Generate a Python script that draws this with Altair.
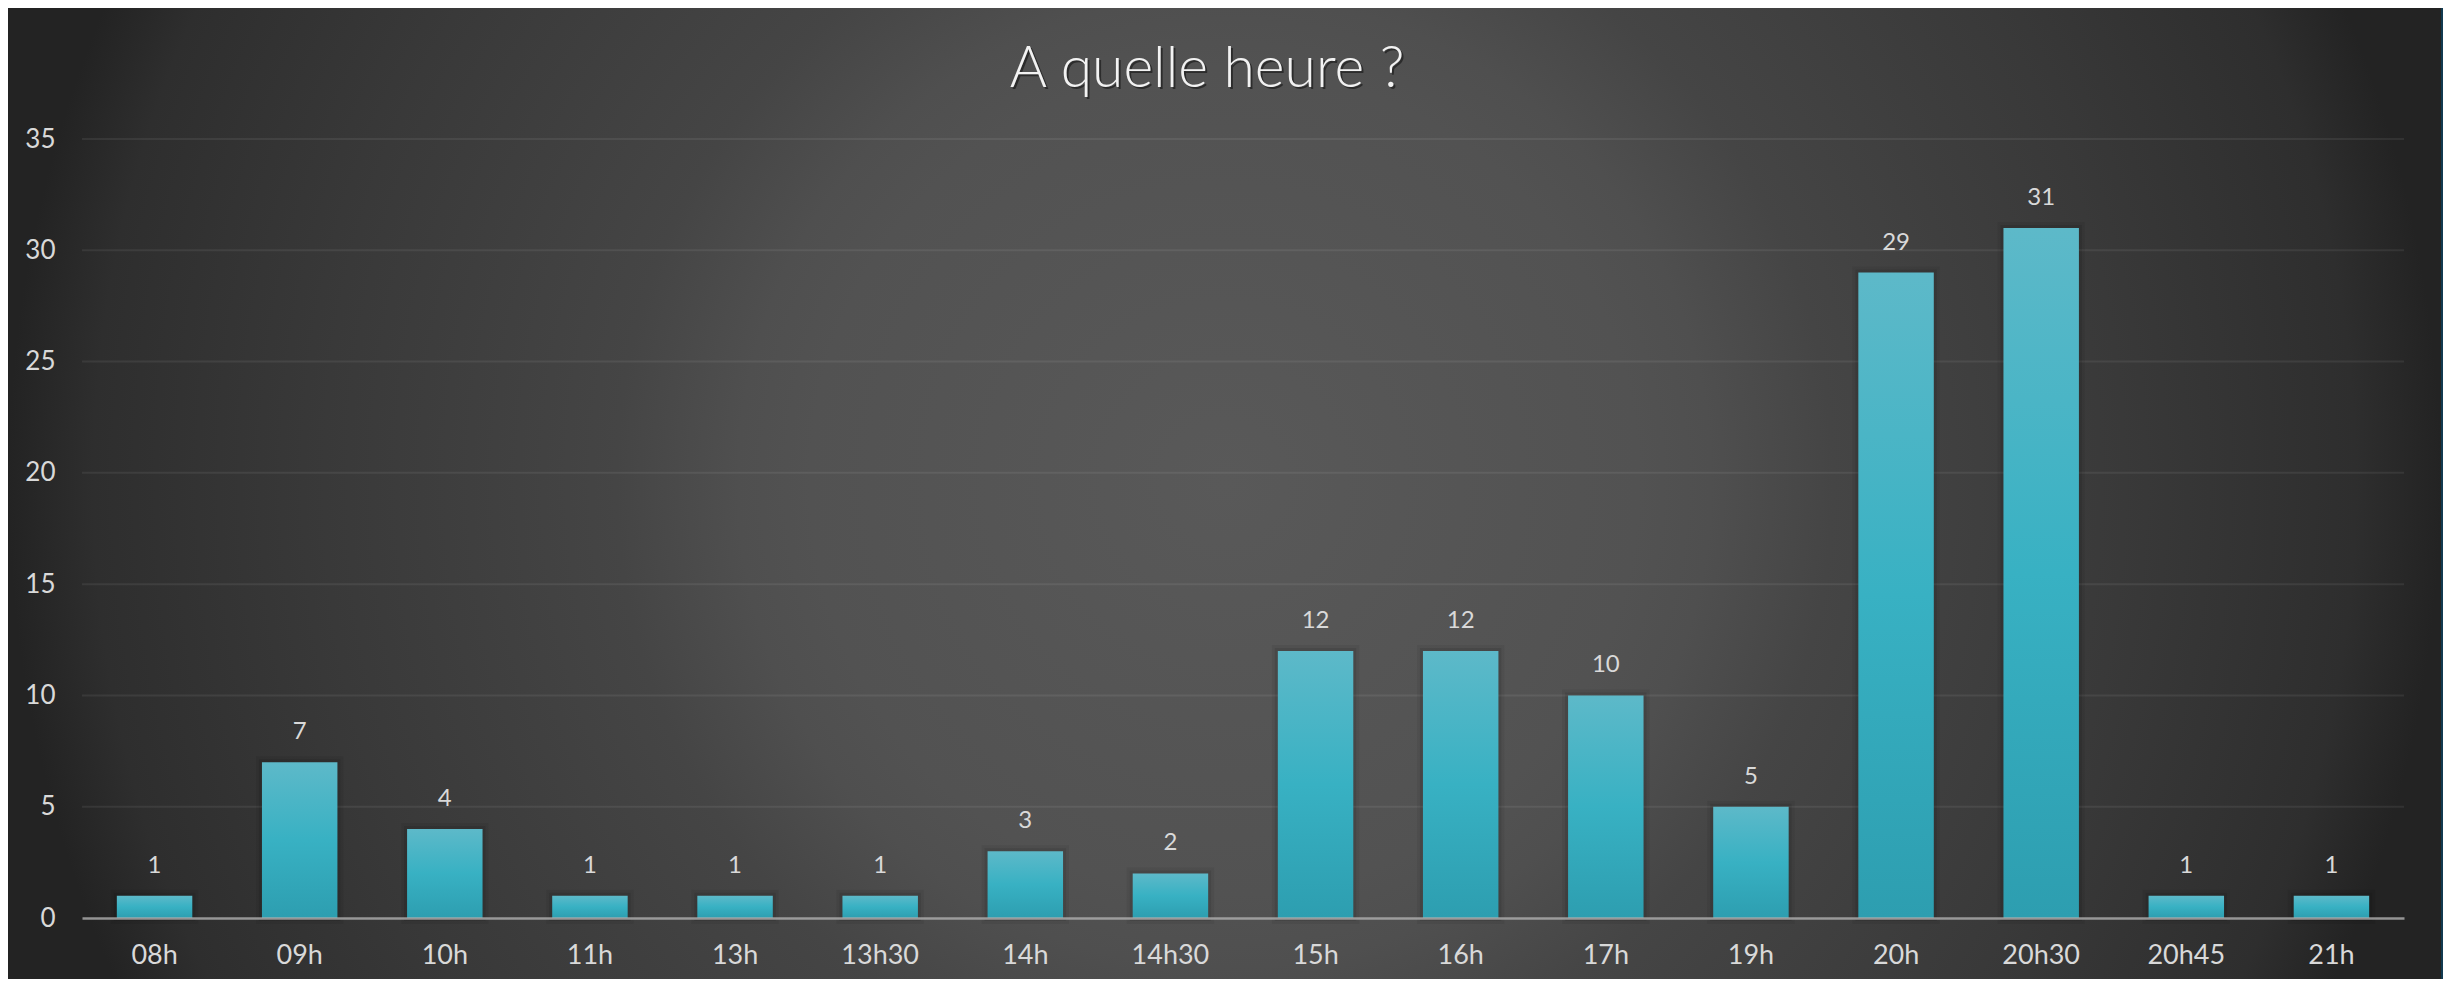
import altair as alt
import pandas as pd

# ---- data ----
categories = ["08h", "09h", "10h", "11h", "13h", "13h30", "14h", "14h30",
              "15h", "16h", "17h", "19h", "20h", "20h30", "20h45", "21h"]
counts = [1, 7, 4, 1, 1, 1, 3, 2, 12, 12, 10, 5, 29, 31, 1, 1]
y_ticks = [0, 5, 10, 15, 20, 25, 30, 35]
title_text = "A quelle heure ?"

FONT = "Lato"
W, H = 2322, 779

df = pd.DataFrame({"cat": categories, "val": counts})
grid_df = pd.DataFrame({"val": y_ticks[1:]})
one = pd.DataFrame({"t": [title_text]})

yscale = alt.Scale(domain=[0, 35], nice=False, zero=True)
xscale = alt.Scale(paddingInner=0.48, paddingOuter=0.24)

X = alt.X("cat:N", sort=categories, scale=xscale, title=None,
          axis=alt.Axis(labelAngle=0, labelFontSize=27, labelColor="#d9d9d9",
                        labelFont=FONT, labelPadding=24, ticks=False, tickSize=0,
                        domainColor="#b0b0b0", domainWidth=2.5, domainOpacity=0.8,
                        grid=False, zindex=1))
y_axis = alt.Axis(values=y_ticks, labelFontSize=26, labelColor="#d9d9d9",
                  labelFont=FONT, labelPadding=27, ticks=False, tickSize=0,
                  domain=False, grid=False, zindex=1)
Y = alt.Y("val:Q", scale=yscale, title=None, axis=y_axis)

radial = {
    "gradient": "radial",
    "x1": 0.5, "y1": 0.495, "r1": 0,
    "x2": 0.5, "y2": 0.495, "r2": 0.5,
    "stops": [
        {"offset": 0.0, "color": "#595959"},
        {"offset": 0.34, "color": "#525252"},
        {"offset": 0.40, "color": "#4f4f4f"},
        {"offset": 0.50, "color": "#454545"},
        {"offset": 0.74, "color": "#393939"},
        {"offset": 0.93, "color": "#2e2e2e"},
        {"offset": 1.0, "color": "#232323"},
    ],
}

bg = alt.Chart(one).mark_rect(fill=radial, stroke=None).encode(
    x=alt.value(-74), x2=alt.value(2359), y=alt.value(-131), y2=alt.value(840)
)

grid = alt.Chart(grid_df).mark_rule(color="white", opacity=0.07, strokeWidth=2).encode(y=Y)

shadow1 = alt.Chart(df).mark_bar(fill="transparent", stroke="black",
                                 strokeWidth=12, strokeOpacity=0.06).encode(x=X, y=Y)
shadow2 = alt.Chart(df).mark_bar(fill="transparent", stroke="black",
                                 strokeWidth=6, strokeOpacity=0.09).encode(x=X, y=Y)

bar_grad = alt.LinearGradient(
    gradient="linear", x1=0, y1=0, x2=0, y2=1,
    stops=[alt.GradientStop(offset=0, color="#5db9c9"),
           alt.GradientStop(offset=0.5, color="#38b1c3"),
           alt.GradientStop(offset=1, color="#2d9eb0")],
)
bars = alt.Chart(df).mark_bar(fill=bar_grad).encode(x=X, y=Y)

labels = alt.Chart(df).mark_text(dy=-23, baseline="alphabetic", fontSize=24,
                                 color="#d9d9d9", font=FONT).encode(
    x=X, y=Y, text="val:Q"
)

title_shadow = alt.Chart(one).mark_text(fontSize=57, font=FONT, fontWeight=300,
                                        color="black", opacity=0.45,
                                        baseline="alphabetic", align="center").encode(
    text="t:N", x=alt.value(1127), y=alt.value(-50)
)
title = alt.Chart(one).mark_text(fontSize=57, font=FONT, fontWeight=300, color="#f2f2f2",
                                 baseline="alphabetic", align="center").encode(
    text="t:N", x=alt.value(1125), y=alt.value(-52)
)

chart = alt.layer(bg, grid, shadow1, shadow2, bars, labels, title_shadow, title).properties(
    width=W, height=H, autosize="none",
    padding={"left": 74, "top": 131, "right": 39, "bottom": 61},
    background="#123a50",
).configure_view(stroke=None)

chart.save("out.html", embed_options={"renderer": "svg", "actions": False})
